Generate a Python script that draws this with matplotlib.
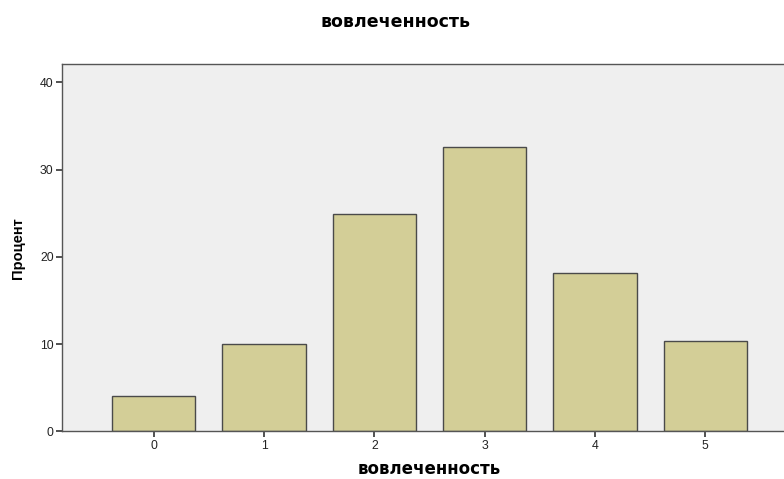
import matplotlib
matplotlib.use("Agg")
import matplotlib.pyplot as plt

# данные
categories = ["0", "1", "2", "3", "4", "5"]
percent = [4.0, 10.0, 24.9, 32.6, 18.1, 10.4]
yticks = [0, 10, 20, 30, 40]

fig = plt.figure(figsize=(7.84, 4.79), dpi=100)
fig.patch.set_facecolor("white")

# область графика обрезана справа, как в исходнике
ax = fig.add_axes([0.0791, 0.0996, 0.9375, 0.7668])
ax.set_facecolor("#efefef")

x = range(len(categories))
ax.bar(x, percent, width=0.756, color="#d3ce97", edgecolor="#4a4a4a", linewidth=1.0)

ax.set_xlim(-0.832, len(categories) - 1 + 0.832)
ax.set_ylim(0, 42.1)
ax.set_xticks(list(x))
ax.set_xticklabels(categories)
ax.set_yticks(yticks)

for side in ["left", "bottom", "top", "right"]:
    ax.spines[side].set_color("#555555")
    ax.spines[side].set_linewidth(1.0)

ax.tick_params(axis="both", direction="out", length=4, width=1.2, color="#333333",
               labelsize=8.8, labelcolor="#222222", pad=2)
for lbl in ax.get_xticklabels() + ax.get_yticklabels():
    lbl.set_family("Liberation Sans")

ax.set_ylabel("Процент", family="Liberation Sans", fontweight="bold", fontsize=10.5, labelpad=11)
ax.set_xlabel("вовлеченность", family="DejaVu Sans", fontweight="bold", fontsize=12, labelpad=6)

fig.text(0.504, 0.955, "вовлеченность", family="DejaVu Sans", fontweight="bold",
         fontsize=12.5, ha="center", va="center")

fig.savefig("out.png", dpi=100)
